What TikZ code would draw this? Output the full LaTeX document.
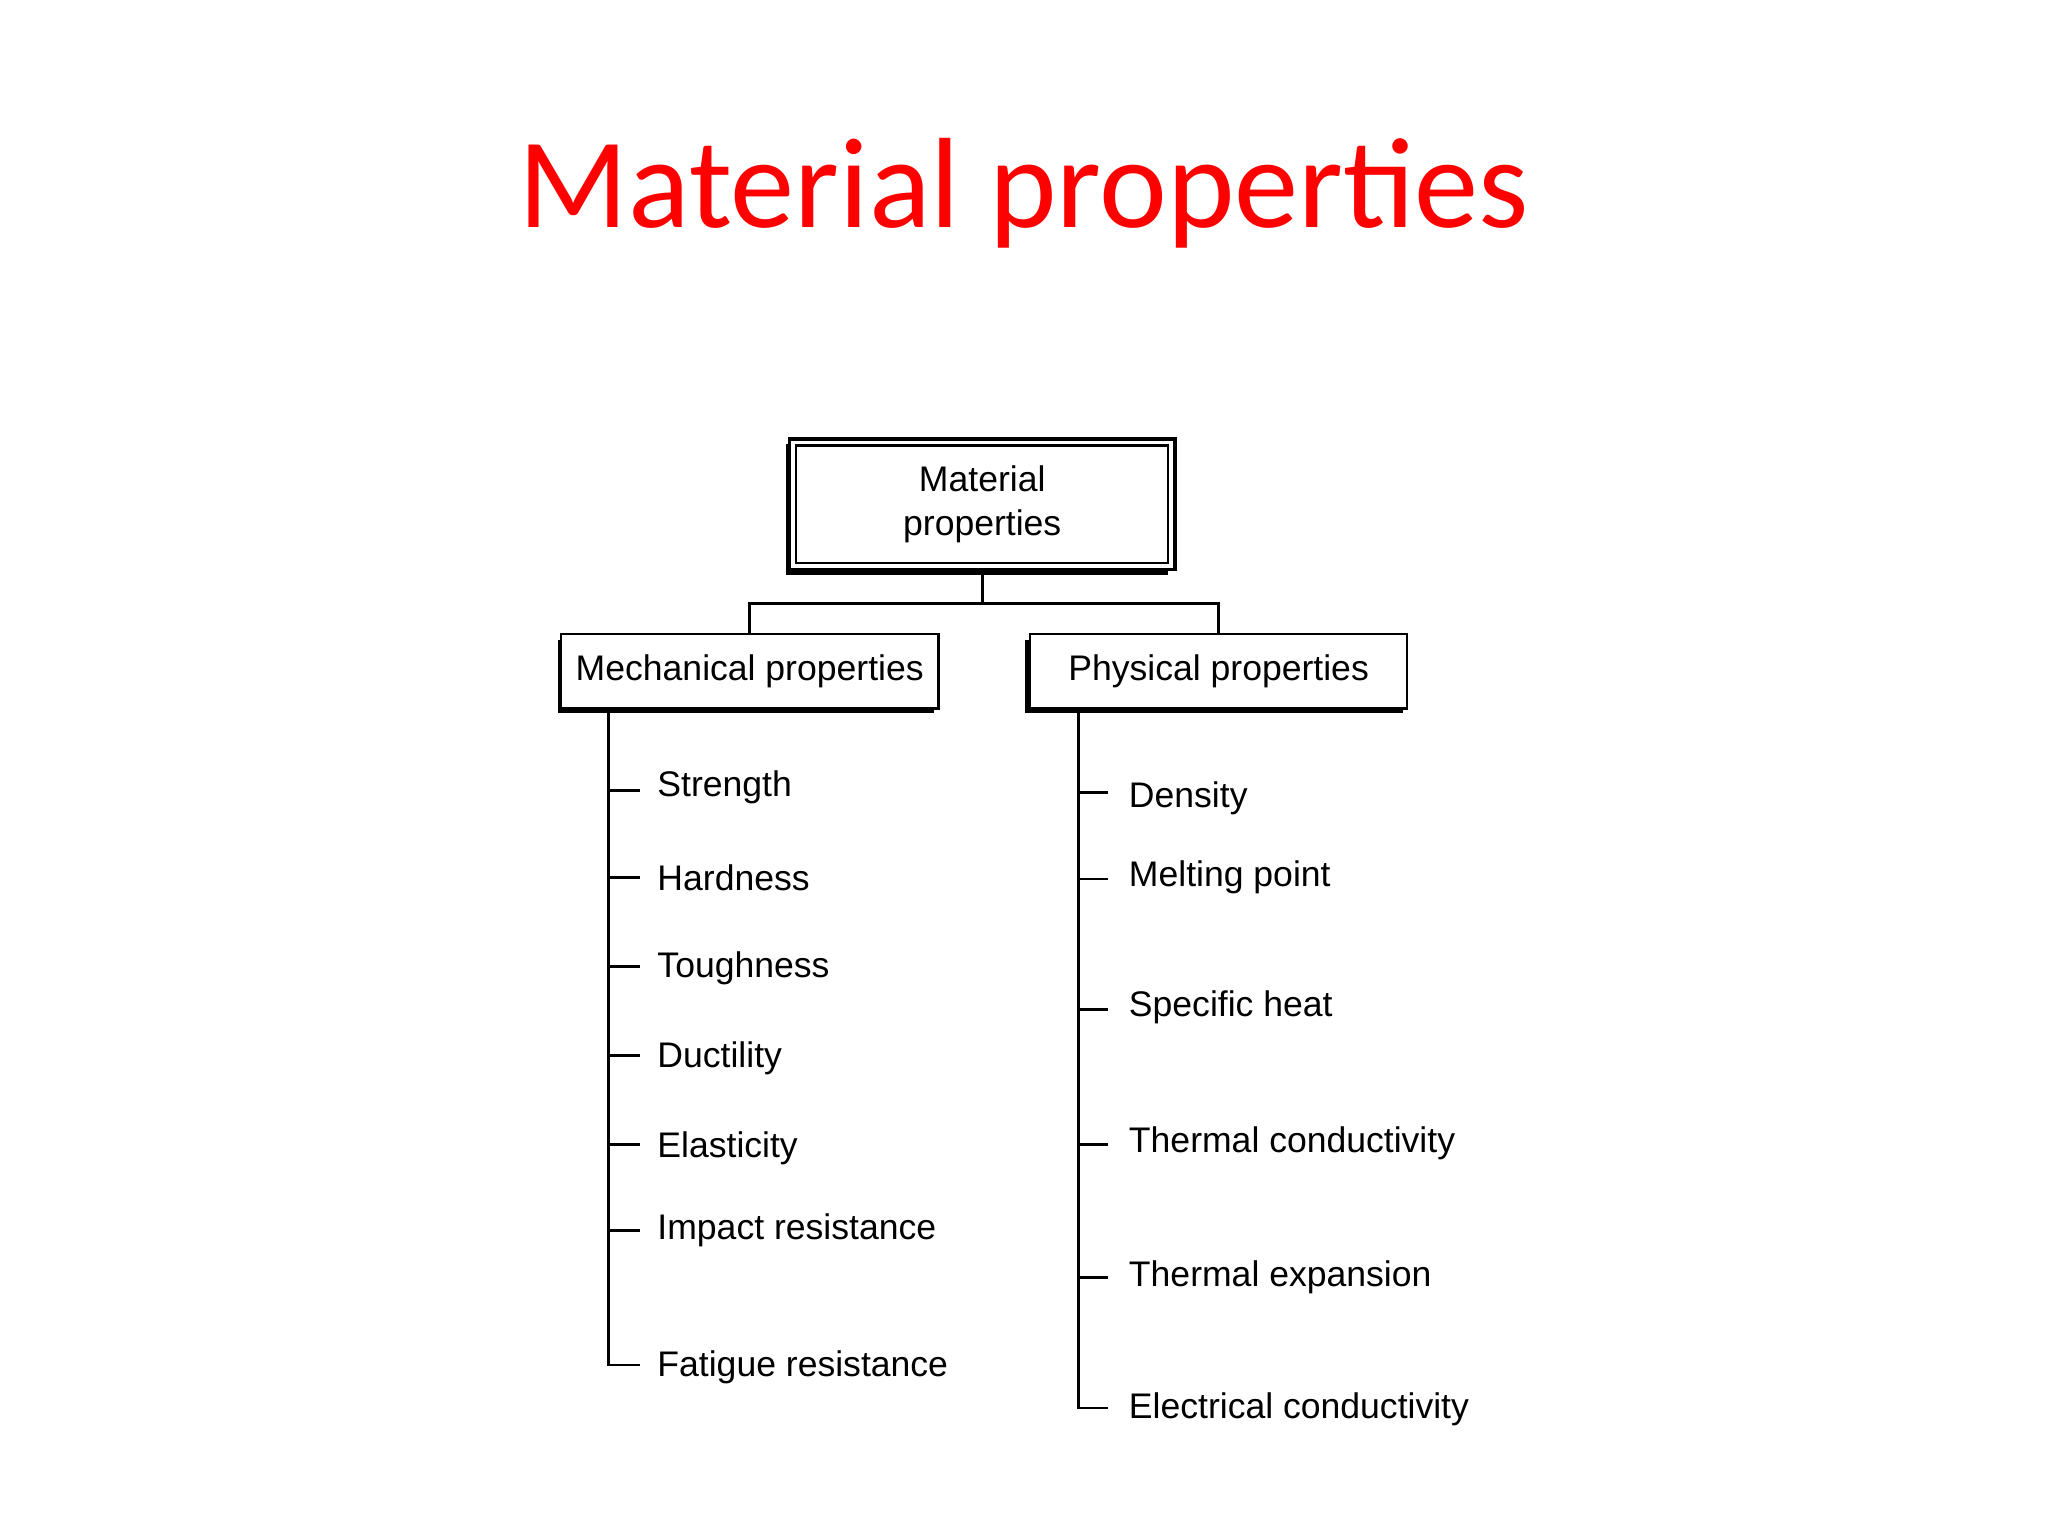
\documentclass[tikz,border=0pt]{standalone}
\usepackage{fontspec}
\setmainfont{Liberation Sans}
\newfontfamily\titlefont{Carlito}
\begin{document}
\begin{tikzpicture}[x=0.02cm,y=-0.02cm,
  lbl/.style={anchor=west,font=\fontsize{15.5}{18}\selectfont,inner sep=0},
  conn/.style={line width=1.2pt},
  shbox/.style={draw,line width=1pt,fill=white,minimum height=1.14cm,font=\fontsize{15.5}{18}\selectfont}]
\useasboundingbox (0,0) rectangle (1568,1176);
\node[text=red,font=\titlefont\fontsize{56}{60}\selectfont] (title) at (784,148) {Material properties};
% top box
\fill (602,340) rectangle (894,440);
\node[draw,line width=1.6pt,fill=white,minimum width=5.9cm,minimum height=2cm] (topo) at (752,386) {};
\node[draw,line width=1pt,minimum width=5.7cm,minimum height=1.8cm,align=center,font=\fontsize{15.5}{19}\selectfont] (top) at (752,386) {Material\\properties};
% second level
\fill (427,490) rectangle (715,546);
\node[shbox,minimum width=5.78cm] (mech) at (574,514) {Mechanical properties};
\fill (785,490) rectangle (1074,546);
\node[shbox,minimum width=5.78cm] (phys) at (933,514) {Physical properties};
\coordinate (j) at (752,462);
\draw[conn] (topo.south) -- (j);
\draw[conn] (j) -| (mech.north);
\draw[conn] (j) -| (phys.north);
% mechanical list
\foreach \t/\y/\n in {Strength/603/m1,Hardness/672/m2,Toughness/741/m3,Ductility/810/m4,Elasticity/879/m5,Impact resistance/942/m6,Fatigue resistance/1047/m7}
  {\node[lbl] (\n) at (503,\y) {\t};}
\coordinate (ms) at (466,543);
\coordinate (me) at (466,1045);
\draw[conn] (ms) -- (me) -- (490,1045);
\foreach \y in {605,672,740,808,876,942}
  {\draw[conn] (466,\y) -- (490,\y);}
% physical list
\foreach \t/\y/\n in {Density/611/p1,Melting point/672/p2,Specific heat/771/p3,Thermal conductivity/875/p4,Thermal expansion/978/p5,Electrical conductivity/1079/p6}
  {\node[lbl] (\n) at (864,\y) {\t};}
\coordinate (ps) at (826,543);
\coordinate (pe) at (826,1078);
\draw[conn] (ps) -- (pe) -- (848,1078);
\foreach \y in {607,673,773,876,978}
  {\draw[conn] (826,\y) -- (848,\y);}
\end{tikzpicture}
\end{document}
